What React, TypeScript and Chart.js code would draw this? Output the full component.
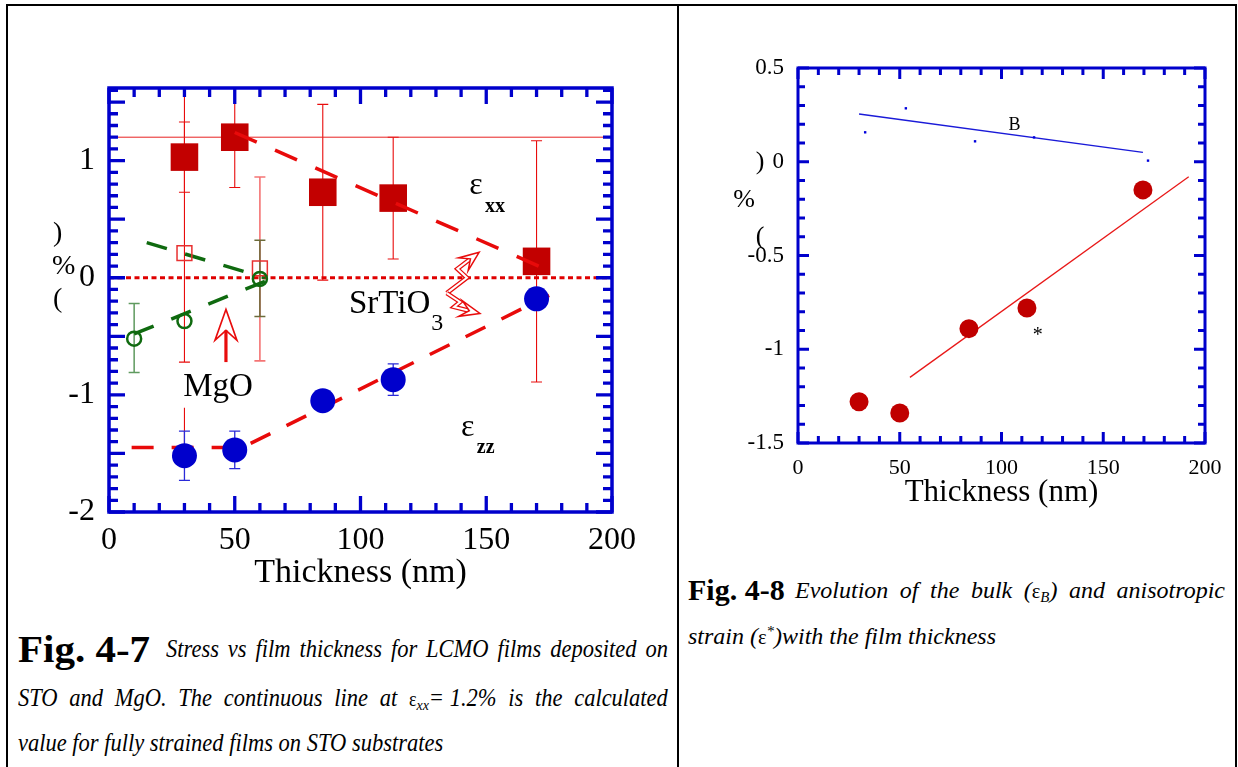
import React, { useEffect, useRef } from 'react';
import { Chart, registerables } from 'chart.js';

Chart.register(...registerables);

const SERIF = '"Liberation Serif", "Times New Roman", serif';
const AXIS_BLUE = '#0000cc';

// ---------- Fig. 4-7: strain vs film thickness ----------
// LCMO on SrTiO3
const stoThickness = [30, 50, 85, 113, 170];
const strainXX = [1.03, 1.2, 0.73, 0.68, 0.14];
const strainXXErr = [0.3, 0.43, 0.75, 0.52, 1.03];
const strainZZ = [-1.52, -1.47, -1.05, -0.87, -0.18];
const strainZZErr = [0.21, 0.16, 0, 0.135, 0];
const stoLowerBarThickness = [30];
const stoLowerBarTop = [-1.11];
const stoLowerBarBottom = [-1.52];

// LCMO on MgO
const mgoSquareThickness = [30, 60];
const mgoSquareStrain = [0.21, 0.08];
const mgoSquareLow = [-0.72, -0.71];
const mgoSquareHigh = [1.75, 0.86];
const mgoCircleThickness = [10, 30, 60];
const mgoCircleStrain = [-0.52, -0.37, -0.01];
const mgoCircleLow = [-0.81, NaN, -0.33];
const mgoCircleHigh = [-0.22, NaN, 0.32];

// guide lines
const fitXXThickness = [50, 175];
const fitXXStrain = [1.24, 0.06];
const fitZZThickness = [9, 53, 175];
const fitZZStrain = [-1.45, -1.45, -0.15];
const fitMgoUpThickness = [10, 62];
const fitMgoUpStrain = [-0.48, -0.03];
const fitMgoDownThickness = [15, 62];
const fitMgoDownStrain = [0.3, 0.0];
const calcStrainXX = 1.2;

const leftXTicks = [0, 50, 100, 150, 200];
const leftYTicks = [-2, -1, 0, 1];

// ---------- Fig. 4-8: bulk and anisotropic strain ----------
const anisoThickness = [30, 50, 84, 112.5, 169.5];
const anisoStrain = [-1.28, -1.34, -0.89, -0.78, -0.15];
const anisoFitThickness = [55, 192];
const anisoFitStrain = [-1.15, -0.08];
const bulkThickness = [33, 53, 87, 116, 172];
const bulkStrain = [0.157, 0.285, 0.109, 0.13, 0.006];
const bulkFitThickness = [30, 169.5];
const bulkFitStrain = [0.255, 0.05];

const rightXTicks = [0, 50, 100, 150, 200];
const rightYTicks = [-1.5, -1, -0.5, 0, 0.5];

const xy = (xs: number[], ys: number[]) => xs.map((x, i) => ({ x, y: ys[i] }));

type FrameOpts = {
  frameWidth: number;
  tickWidth: number;
  majorLen: number;
  minorLen: number;
  xMinor: number;
  xMajor: number;
  yMinor: number;
  yMajor: number;
};

// Box frame with inward-pointing ticks on all four sides
function framePlugin(o: FrameOpts) {
  return {
    id: 'frameTicks',
    afterDatasetsDraw(chart: any) {
      const { ctx, chartArea: a, scales } = chart;
      const x = scales.x;
      const y = scales.y;
      const isMajor = (v: number, m: number) => Math.abs(v / m - Math.round(v / m)) < 1e-6;
      ctx.save();
      ctx.strokeStyle = AXIS_BLUE;
      ctx.lineWidth = o.tickWidth;
      ctx.beginPath();
      for (let i = 0; ; i++) {
        const v = x.min + i * o.xMinor;
        if (v > x.max + 1e-9) break;
        const px = x.getPixelForValue(v);
        const len = isMajor(v, o.xMajor) ? o.majorLen : o.minorLen;
        ctx.moveTo(px, a.bottom);
        ctx.lineTo(px, a.bottom - len);
        ctx.moveTo(px, a.top);
        ctx.lineTo(px, a.top + len);
      }
      for (let i = 0; ; i++) {
        const v = y.min + i * o.yMinor;
        if (v > y.max + 1e-9) break;
        const py = y.getPixelForValue(v);
        const len = isMajor(v, o.yMajor) ? o.majorLen : o.minorLen;
        ctx.moveTo(a.left, py);
        ctx.lineTo(a.left + len, py);
        ctx.moveTo(a.right, py);
        ctx.lineTo(a.right - len, py);
      }
      ctx.stroke();
      ctx.lineWidth = o.frameWidth;
      ctx.strokeRect(a.left, a.top, a.right - a.left, a.bottom - a.top);
      ctx.restore();
    },
  };
}

type Bar = { x: number; lo: number; hi: number; color: string; width: number; cap: number; capLo: boolean; capHi: boolean };

function errorBarPlugin(bars: Bar[]) {
  return {
    id: 'errorBars',
    beforeDatasetsDraw(chart: any) {
      const { ctx, chartArea: a, scales } = chart;
      ctx.save();
      ctx.beginPath();
      ctx.rect(a.left, a.top, a.right - a.left, a.bottom - a.top);
      ctx.clip();
      for (const b of bars) {
        if (!isFinite(b.lo) || !isFinite(b.hi)) continue;
        const px = scales.x.getPixelForValue(b.x);
        const pLo = scales.y.getPixelForValue(b.lo);
        const pHi = scales.y.getPixelForValue(b.hi);
        ctx.strokeStyle = b.color;
        ctx.lineWidth = b.width;
        ctx.beginPath();
        ctx.moveTo(px, pLo);
        ctx.lineTo(px, pHi);
        if (b.capLo) {
          ctx.moveTo(px - b.cap / 2, pLo);
          ctx.lineTo(px + b.cap / 2, pLo);
        }
        if (b.capHi) {
          ctx.moveTo(px - b.cap / 2, pHi);
          ctx.lineTo(px + b.cap / 2, pHi);
        }
        ctx.stroke();
      }
      ctx.restore();
    },
  };
}

// hollow arrow head: tip at (tx,ty), pointing away from (fx,fy)
function arrowHead(ctx: CanvasRenderingContext2D, fx: number, fy: number, tx: number, ty: number, L: number, W: number, N: number) {
  const ang = Math.atan2(ty - fy, tx - fx);
  const dx = Math.cos(ang);
  const dy = Math.sin(ang);
  const nx = -dy;
  const ny = dx;
  ctx.beginPath();
  ctx.moveTo(tx, ty);
  ctx.lineTo(tx - L * dx + W * nx, ty - L * dy + W * ny);
  ctx.lineTo(tx - N * dx, ty - N * dy);
  ctx.lineTo(tx - L * dx - W * nx, ty - L * dy - W * ny);
  ctx.closePath();
  ctx.fillStyle = '#fff';
  ctx.fill();
  ctx.stroke();
  return { bx: tx - N * dx, by: ty - N * dy };
}

function LeftChart() {
  const ref = useRef<HTMLCanvasElement | null>(null);
  useEffect(() => {
    if (!ref.current) return;
    const red = '#e80c0c';
    const bars: Bar[] = [
      ...stoThickness.map((x, i) => ({ x, lo: strainXX[i] - strainXXErr[i], hi: strainXX[i] + strainXXErr[i], color: red, width: 1.1, cap: 11, capLo: true, capHi: true })),
      ...mgoSquareThickness.map((x, i) => ({ x, lo: mgoSquareLow[i], hi: mgoSquareHigh[i], color: i === 0 ? red : 'rgba(240,70,70,0.75)', width: i === 0 ? 1.1 : 1.6, cap: 11, capLo: true, capHi: true })),
      ...stoLowerBarThickness.map((x, i) => ({ x, lo: stoLowerBarBottom[i], hi: stoLowerBarTop[i], color: red, width: 1.1, cap: 0, capLo: false, capHi: false })),
      ...mgoCircleThickness.map((x, i) => ({ x, lo: mgoCircleLow[i], hi: mgoCircleHigh[i], color: i === 0 ? '#5f9a5f' : '#6b6b3a', width: 1.5, cap: 11, capLo: true, capHi: true })),
      ...stoThickness
        .map((x, i) => ({ x, lo: strainZZ[i] - strainZZErr[i], hi: strainZZ[i] + strainZZErr[i], color: '#2a2ad8', width: 1.3, cap: 11, capLo: true, capHi: true }))
        .filter((b) => b.hi > b.lo),
    ];

    const labels = {
      id: 'leftLabels',
      afterDraw(chart: any) {
        const { ctx, scales } = chart;
        const X = (v: number) => scales.x.getPixelForValue(v);
        const Y = (v: number) => scales.y.getPixelForValue(v);
        ctx.save();
        ctx.fillStyle = '#000';
        // y-axis title, stacked upward
        ctx.font = `28px ${SERIF}`;
        ctx.textAlign = 'left';
        ctx.textBaseline = 'middle';
        ctx.fillText(')', 53, 234);
        ctx.fillText('%', 52, 267);
        ctx.fillText('(', 53, 300);

        // series names
        ctx.textAlign = 'center';
        ctx.font = `32px ${SERIF}`;
        ctx.fillText('ε', X(145.9), Y(0.783));
        ctx.font = `bold 20px ${SERIF}`;
        ctx.fillText('xx', X(145.9) + 19, Y(0.783) + 21);
        ctx.font = `32px ${SERIF}`;
        ctx.fillText('ε', X(142.6), Y(-1.281));
        ctx.font = `bold 20px ${SERIF}`;
        ctx.fillText('zz', X(142.6) + 18, Y(-1.281) + 20);

        ctx.textAlign = 'left';
        ctx.textBaseline = 'alphabetic';
        ctx.font = `33px ${SERIF}`;
        const sx = X(95.4);
        const sy = Y(-0.303);
        ctx.fillText('SrTiO', sx, sy);
        const w = ctx.measureText('SrTiO').width;
        ctx.font = `24px ${SERIF}`;
        ctx.fillText('3', sx + w + 1, sy + 17);
        ctx.font = `33px ${SERIF}`;
        ctx.fillText('MgO', X(29.5), Y(-1.013));

        // arrows
        ctx.strokeStyle = '#e80c0c';
        ctx.lineJoin = 'miter';
        // MgO arrow
        const ax = X(46.5);
        const tailY = Y(-0.72);
        const tipY = Y(-0.27);
        ctx.lineWidth = 1.6;
        const base = arrowHead(ctx, ax, tailY, ax, tipY, 31, 11, 21);
        ctx.lineWidth = 3.2;
        ctx.beginPath();
        ctx.moveTo(ax, tailY);
        ctx.lineTo(base.bx, base.by);
        ctx.stroke();

        // SrTiO3 arrows
        const paths = [
          [[134.3, -0.131], [142.3, 0.0], [138.5, 0.076], [147.2, 0.218]],
          [[134.3, -0.131], [139.6, -0.207], [137.2, -0.249], [147.5, -0.305]],
        ];
        for (const p of paths) {
          const pts = p.map(([a, b]) => [X(a), Y(b)]);
          const n = pts.length;
          const ang = Math.atan2(pts[n - 1][1] - pts[n - 2][1], pts[n - 1][0] - pts[n - 2][0]);
          const end = [pts[n - 1][0] - 10 * Math.cos(ang), pts[n - 1][1] - 10 * Math.sin(ang)];
          const stroke = (lw: number, col: string) => {
            ctx.strokeStyle = col;
            ctx.lineWidth = lw;
            ctx.beginPath();
            ctx.moveTo(pts[0][0], pts[0][1]);
            for (let i = 1; i < n - 1; i++) ctx.lineTo(pts[i][0], pts[i][1]);
            ctx.lineTo(end[0], end[1]);
            ctx.stroke();
          };
          stroke(4.5, '#e80c0c');
          stroke(2, '#fff');
          ctx.strokeStyle = '#e80c0c';
          ctx.lineWidth = 1.5;
          arrowHead(ctx, pts[n - 2][0], pts[n - 2][1], pts[n - 1][0], pts[n - 1][1], 20, 8, 11);
        }
        ctx.restore();
      },
    };

    const chart = new Chart(ref.current, {
      type: 'scatter',
      data: {
        datasets: [
          { label: 'calc', data: [{ x: 0, y: calcStrainXX }, { x: 200, y: calcStrainXX }], showLine: true, borderColor: '#e82020', borderWidth: 1, pointRadius: 0, order: 9 },
          { label: 'zero', data: [{ x: 0, y: 0 }, { x: 200, y: 0 }], showLine: true, borderColor: '#e00000', borderWidth: 3, borderDash: [5, 3.5], pointRadius: 0, order: 8 },
          { label: 'exx', data: xy(stoThickness, strainXX), pointStyle: 'rect', pointRadius: 19.5, backgroundColor: '#c20000', borderWidth: 0, order: 6 },
          { label: 'fit xx', data: xy(fitXXThickness, fitXXStrain), showLine: true, borderColor: '#e80a0a', borderWidth: 3.5, borderDash: [24, 20], pointRadius: 0, order: 5 },
          { label: 'fit zz', data: xy(fitZZThickness, fitZZStrain), showLine: true, borderColor: '#e80a0a', borderWidth: 3.5, borderDash: [22, 18], pointRadius: 0, order: 5 },
          { label: 'ezz', data: xy(stoThickness, strainZZ), pointStyle: 'circle', pointRadius: 12.5, backgroundColor: '#0000cc', borderWidth: 0, order: 4 },
          { label: 'mgo fit up', data: xy(fitMgoUpThickness, fitMgoUpStrain), showLine: true, borderColor: '#0f6a0f', borderWidth: 3.5, borderDash: [21, 19], pointRadius: 0, order: 3 },
          { label: 'mgo fit down', data: xy(fitMgoDownThickness, fitMgoDownStrain), showLine: true, borderColor: '#0f6a0f', borderWidth: 3.5, borderDash: [21, 19], pointRadius: 0, order: 3 },
          { label: 'mgo squares', data: xy(mgoSquareThickness, mgoSquareStrain), pointStyle: 'rect', pointRadius: 10.5, backgroundColor: 'rgba(0,0,0,0)', borderColor: '#e83030', borderWidth: 1.5, order: 2 },
          { label: 'mgo circles', data: xy(mgoCircleThickness, mgoCircleStrain), pointStyle: 'circle', pointRadius: 7, backgroundColor: 'rgba(0,0,0,0)', borderColor: '#0f6a0f', borderWidth: 2.5, order: 1 },
        ],
      },
      options: {
        animation: false,
        responsive: false,
        devicePixelRatio: 1,
        layout: { padding: { top: 88, right: 64, left: 0, bottom: 0 } },
        plugins: { legend: { display: false }, tooltip: { enabled: false } },
        scales: {
          x: {
            type: 'linear',
            min: 0,
            max: 200,
            afterBuildTicks: (s: any) => { s.ticks = leftXTicks.map((v) => ({ value: v })); },
            afterFit: (s: any) => { s.height = 88; },
            grid: { display: false, drawTicks: false },
            border: { display: false },
            ticks: { padding: 9, font: { family: SERIF, size: 32 }, color: '#000', maxRotation: 0, autoSkip: false },
            title: { display: true, text: 'Thickness (nm)', font: { family: SERIF, size: 34 }, color: '#000', padding: { top: 0, bottom: 6.6 } },
          },
          y: {
            type: 'linear',
            min: -2,
            max: 1.62,
            afterBuildTicks: (s: any) => { s.ticks = leftYTicks.map((v) => ({ value: v })); },
            afterFit: (s: any) => { s.width = 109; },
            grid: { display: false, drawTicks: false },
            border: { display: false },
            ticks: { padding: 14, font: { family: SERIF, size: 32 }, color: '#000', callback: (v: any) => String(v) },
          },
        },
      } as any,
      plugins: [
        errorBarPlugin(bars),
        framePlugin({ frameWidth: 3.5, tickWidth: 3.3, majorLen: 16, minorLen: 9, xMinor: 10, xMajor: 50, yMinor: 0.1, yMajor: 0.5 }),
        labels,
      ],
    });
    return () => chart.destroy();
  }, []);
  return <canvas ref={ref} width={676} height={600} style={{ position: 'absolute', left: 0, top: 0 }} />;
}

function RightChart() {
  const ref = useRef<HTMLCanvasElement | null>(null);
  useEffect(() => {
    if (!ref.current) return;
    const labels = {
      id: 'rightLabels',
      afterDraw(chart: any) {
        const { ctx, scales } = chart;
        const X = (v: number) => scales.x.getPixelForValue(v);
        const Y = (v: number) => scales.y.getPixelForValue(v);
        ctx.save();
        ctx.fillStyle = '#000';
        ctx.font = `26px ${SERIF}`;
        ctx.textAlign = 'center';
        ctx.textBaseline = 'middle';
        ctx.fillText(')', 80, 162);
        ctx.fillText('%', 64, 200);
        ctx.fillText('(', 80, 237);
        ctx.textAlign = 'left';
        ctx.textBaseline = 'alphabetic';
        ctx.font = `18px ${SERIF}`;
        ctx.fillText('B', X(103.5), Y(0.171));
        ctx.textAlign = 'center';
        ctx.textBaseline = 'middle';
        ctx.font = `20px ${SERIF}`;
        ctx.fillText('*', X(117.8), Y(-0.93));
        ctx.restore();
      },
    };

    const chart = new Chart(ref.current, {
      type: 'scatter',
      data: {
        datasets: [
          { label: 'bulk fit', data: xy(bulkFitThickness, bulkFitStrain), showLine: true, borderColor: '#1a1ad8', borderWidth: 1.5, pointRadius: 0, order: 4 },
          { label: 'bulk', data: xy(bulkThickness, bulkStrain), pointStyle: 'rect', pointRadius: 1.7, backgroundColor: '#0000dd', borderWidth: 0, order: 3 },
          { label: 'aniso fit', data: xy(anisoFitThickness, anisoFitStrain), showLine: true, borderColor: '#e81818', borderWidth: 1.3, pointRadius: 0, order: 2 },
          { label: 'aniso', data: xy(anisoThickness, anisoStrain), pointStyle: 'circle', pointRadius: 9.5, backgroundColor: '#c00000', borderWidth: 0, order: 1 },
        ],
      },
      options: {
        animation: false,
        responsive: false,
        devicePixelRatio: 1,
        layout: { padding: { top: 68, right: 31, left: 0, bottom: 0 } },
        plugins: { legend: { display: false }, tooltip: { enabled: false } },
        scales: {
          x: {
            type: 'linear',
            min: 0,
            max: 200,
            afterBuildTicks: (s: any) => { s.ticks = rightXTicks.map((v) => ({ value: v })); },
            afterFit: (s: any) => { s.height = 97; },
            grid: { display: false, drawTicks: false },
            border: { display: false },
            ticks: { padding: 11.8, font: { family: SERIF, size: 22 }, color: '#000', maxRotation: 0, autoSkip: false },
            title: { display: true, text: 'Thickness (nm)', font: { family: SERIF, size: 31 }, color: '#000', padding: { top: 0, bottom: 28.4 } },
          },
          y: {
            type: 'linear',
            min: -1.5,
            max: 0.5,
            afterBuildTicks: (s: any) => { s.ticks = rightYTicks.map((v) => ({ value: v })); },
            afterFit: (s: any) => { s.width = 118; },
            grid: { display: false, drawTicks: false },
            border: { display: false },
            ticks: { padding: 14, font: { family: SERIF, size: 23 }, color: '#000', callback: (v: any) => String(v) },
          },
        },
      } as any,
      plugins: [
        framePlugin({ frameWidth: 3, tickWidth: 3, majorLen: 11, minorLen: 7, xMinor: 10, xMajor: 50, yMinor: 0.1, yMajor: 0.5 }),
        labels,
      ],
    });
    return () => chart.destroy();
  }, []);
  return <canvas ref={ref} width={556} height={540} style={{ position: 'absolute', left: 680, top: 0 }} />;
}

// one caption line whose words are spread across a fixed width
function Words({ items, left, top, width, size, squeeze = 1 }: { items: React.ReactNode[]; left: number; top: number; width: number; size: number; squeeze?: number }) {
  return (
    <div style={{ position: 'absolute', left, top, width: width / squeeze, transform: `scaleX(${squeeze})`, transformOrigin: '0 0', display: 'flex', justifyContent: 'space-between', alignItems: 'baseline', whiteSpace: 'nowrap', fontStyle: 'italic', fontSize: size, lineHeight: 1 }}>
      {items.map((w, i) => (
        <span key={i} style={{ lineHeight: 1 }}>{w}</span>
      ))}
    </div>
  );
}

const sub = (t: string) => (
  <span style={{ fontSize: '0.62em', position: 'relative', top: '0.28em' }}>{t}</span>
);

const LEFT_SQUEEZE = 0.9;

export default function App() {
  const line = (x: number, y: number, w: number, h: number) => (
    <div style={{ position: 'absolute', left: x, top: y, width: w, height: h, background: '#000' }} />
  );
  return (
    <div style={{ position: 'absolute', left: 0, top: 0, width: 1238, height: 767, background: '#fff', overflow: 'hidden', fontFamily: SERIF, color: '#000' }}>
      <LeftChart />
      <RightChart />
      {line(6, 4, 1231, 2)}
      {line(6, 4, 2, 763)}
      {line(677, 4, 2, 763)}
      {line(1235, 4, 2, 763)}

      <div style={{ position: 'absolute', left: 18, top: 627, fontWeight: 'bold', fontSize: 41, lineHeight: 1, whiteSpace: 'nowrap', transform: 'scaleY(0.92)', transformOrigin: '0 100%' }}>Fig. 4-7</div>
      <Words left={166} top={636} width={502} size={25} squeeze={LEFT_SQUEEZE}
        items={'Stress vs film thickness for LCMO films deposited on'.split(' ')} />
      <Words left={18} top={685} width={650} size={25} squeeze={LEFT_SQUEEZE}
        items={[...'STO and MgO. The continuous line at'.split(' '),
          <span><span style={{ fontStyle: 'normal', fontSize: '0.8em' }}>ε</span>{sub('xx')}= 1.2%</span>,
          ...'is the calculated'.split(' ')]} />
      <div style={{ position: 'absolute', left: 18, top: 730, fontStyle: 'italic', fontSize: 25, lineHeight: 1, whiteSpace: 'nowrap', transform: `scaleX(${LEFT_SQUEEZE})`, transformOrigin: '0 0' }}>
        value for fully strained films on STO substrates
      </div>

      <div style={{ position: 'absolute', left: 688, top: 575, fontWeight: 'bold', fontSize: 30, lineHeight: 1, whiteSpace: 'nowrap' }}>Fig. 4-8</div>
      <Words left={795} top={578} width={430} size={24}
        items={[...'Evolution of the bulk'.split(' '),
          <span>(<span style={{ fontStyle: 'normal', fontSize: '0.85em' }}>ε</span>{sub('B')})</span>,
          'and', 'anisotropic']} />
      <div style={{ position: 'absolute', left: 688, top: 624, fontStyle: 'italic', fontSize: 24, lineHeight: 1, whiteSpace: 'nowrap' }}>
        strain (<span style={{ fontStyle: 'normal', fontSize: '0.85em' }}>ε</span>
        <span style={{ fontSize: '0.62em', position: 'relative', top: '-0.55em' }}>*</span>)with the film thickness
      </div>
    </div>
  );
}
